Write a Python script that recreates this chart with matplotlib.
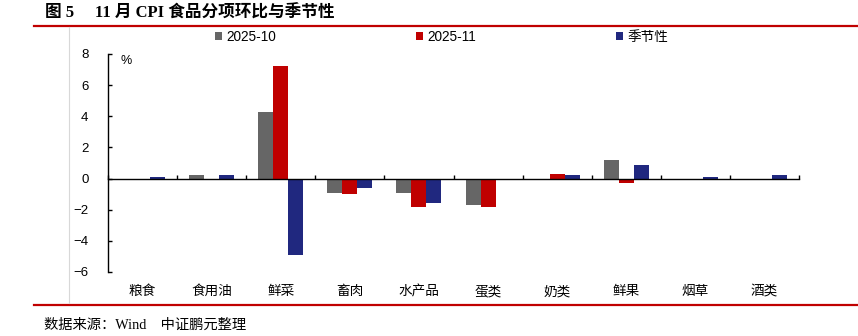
import matplotlib
matplotlib.use("Agg")
import matplotlib.pyplot as plt
import numpy as np
from matplotlib.lines import Line2D

plt.rcParams['font.family'] = ['Liberation Sans', 'Noto Sans CJK SC', 'DejaVu Sans']
plt.rcParams['axes.unicode_minus'] = True

categories = ["粮食", "食用油", "鲜菜", "畜肉", "水产品", "蛋类", "奶类", "鲜果", "烟草", "酒类"]
series_names = ["2025-10", "2025-11", "季节性"]
oct_2025 = [0.0, 0.2, 4.3, -0.9, -0.9, -1.7, -0.1, 1.2, -0.1, -0.1]
nov_2025 = [0.0, -0.1, 7.2, -1.0, -1.8, -1.8, 0.3, -0.3, 0.0, 0.0]
seasonal = [0.1, 0.25, -4.9, -0.6, -1.55, -0.1, 0.2, 0.9, 0.1, 0.2]
yticks = [-6, -4, -2, 0, 2, 4, 6, 8]

colors = ["#666666", "#C00000", "#20287F"]

W, H = 858, 336
fig = plt.figure(figsize=(W / 100, H / 100), dpi=100)
ax = fig.add_axes([108 / W, 1 - 272 / H, (799 - 108) / W, (272 - 54) / H])

x = np.arange(len(categories))
bw = 15 / 69
handles = []
for i, (vals, name, c) in enumerate(zip([oct_2025, nov_2025, seasonal], series_names, colors)):
    b = ax.bar(x + (i - 1) * bw, vals, width=bw, color=c, label=name, zorder=2)
    handles.append(b)

ax.set_xlim(-0.5, len(categories) - 0.5)
ax.set_ylim(-6, 8)
ax.set_yticks(yticks)
ax.set_yticklabels([("\u2212" + str(-v)) if v < 0 else str(v) for v in yticks])
ax.tick_params(axis='y', direction='in', length=3, width=1, pad=14, labelsize=9.5)
ax.spines['top'].set_visible(False)
ax.spines['right'].set_visible(False)
ax.spines['left'].set_linewidth(1)
ax.spines['bottom'].set_position(('data', 0))
ax.spines['bottom'].set_linewidth(1)
ax.set_xticks(np.arange(len(categories) + 1) - 0.5)
ax.set_xticklabels([])
ax.tick_params(axis='x', direction='in', length=3, width=1)

for xi, cat in zip(x, categories):
    ax.text(xi, -0.088, cat, transform=ax.get_xaxis_transform(), ha='center', va='center',
            fontsize=9.8, family=['Noto Sans CJK SC', 'DejaVu Sans'])

ax.text(0.018, 0.97, "%", transform=ax.transAxes, ha='left', va='center', fontsize=9)

fig.legend(handles=handles, labels=series_names, loc='center left',
           bbox_to_anchor=(215 / W, 1 - 37 / H), ncol=3, frameon=False,
           handlelength=0.55, handleheight=0.55, handletextpad=0.3,
           columnspacing=10.25, fontsize=9.8, borderpad=0, borderaxespad=0)

# decoration lines
fig.add_artist(Line2D([34 / W, 1], [1 - 26 / H, 1 - 26 / H], color="#C00000", lw=1.6, transform=fig.transFigure))
fig.add_artist(Line2D([34 / W, 1], [1 - 304.5 / H, 1 - 304.5 / H], color="#C00000", lw=1.6, transform=fig.transFigure))
fig.add_artist(Line2D([69 / W, 69 / W], [1 - 27 / H, 1 - 303 / H], color="#D8D8D8", lw=0.8, transform=fig.transFigure))

fig.text(45 / W, 1 - 13 / H, "图 5\u3000 11 月 CPI 食品分项环比与季节性", ha='left', va='center',
         fontsize=12, fontweight='bold', family=['Liberation Serif', 'Noto Sans CJK SC'])
fig.text(44 / W, 1 - 325 / H, "数据来源：Wind\u3000中证鹏元整理", ha='left', va='center',
         fontsize=10.3, family=['Liberation Serif', 'Noto Sans CJK SC'])

fig.savefig("out.png", dpi=100)
